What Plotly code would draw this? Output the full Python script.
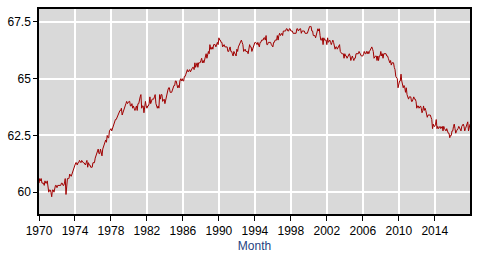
import plotly.graph_objects as go
import pandas as pd

# Civilian labor force participation rate, monthly, percent
values_1970s = [
    60.4, 60.6, 60.5, 60.6, 60.4, 60.4, 60.4, 60.3, 60.5, 60.4, 60.4, 60.5,
    60.1, 60.0, 60.1, 60.1, 60.0, 59.8, 60.1, 60.1, 60.0, 60.2, 60.3, 60.3,
    60.2, 60.3, 60.3, 60.3, 60.3, 60.3, 60.4, 60.4, 60.3, 60.3, 60.4, 60.6,
    59.9, 60.4, 60.6, 60.6, 60.6, 60.8, 60.7, 60.7, 60.8, 60.9, 61.0, 61.0,
    61.2, 61.3, 61.3, 61.2, 61.3, 61.3, 61.4, 61.3, 61.3, 61.4, 61.3, 61.3,
    61.3, 61.2, 61.2, 61.3, 61.4, 61.1, 61.3, 61.2, 61.2, 61.1, 61.1, 61.1,
    61.3, 61.3, 61.3, 61.5, 61.6, 61.6, 61.7, 61.9, 61.7, 61.7, 61.9, 61.8,
    61.6, 61.9, 62.0, 62.1, 62.2, 62.3, 62.2, 62.5, 62.4, 62.4, 62.7, 62.8,
    62.8, 62.7, 62.8, 62.9, 63.0, 63.2, 63.2, 63.2, 63.3, 63.3, 63.5, 63.5,
    63.6, 63.6, 63.7, 63.4, 63.5, 63.6, 63.8, 63.8, 63.9, 64.0, 63.9, 64.0,
]
values_1980s = [
    64.0, 64.0, 63.8, 63.8, 63.9, 63.7, 63.8, 63.7, 63.6, 63.7, 63.8, 63.6,
    63.9, 63.9, 64.1, 64.2, 64.3, 63.7, 63.8, 63.8, 63.5, 63.9, 64.0, 63.8,
    63.7, 63.8, 63.8, 63.9, 64.2, 63.9, 64.0, 64.1, 64.1, 64.1, 64.2, 64.3,
    63.9, 63.8, 63.7, 63.8, 63.7, 64.3, 64.1, 64.3, 64.3, 64.0, 64.1, 64.1,
    63.9, 64.1, 64.1, 64.3, 64.5, 64.6, 64.6, 64.4, 64.4, 64.4, 64.5, 64.6,
    64.7, 64.7, 64.9, 64.9, 64.8, 64.6, 64.7, 64.6, 64.9, 65.0, 64.9, 65.0,
    64.9, 64.9, 65.1, 65.1, 65.2, 65.4, 65.4, 65.3, 65.4, 65.4, 65.3, 65.4,
    65.4, 65.5, 65.5, 65.4, 65.7, 65.5, 65.6, 65.7, 65.5, 65.7, 65.7, 65.7,
    65.8, 65.9, 65.7, 65.8, 65.7, 65.8, 65.9, 66.1, 65.9, 66.0, 66.2, 66.1,
    66.5, 66.3, 66.3, 66.4, 66.3, 66.5, 66.5, 66.5, 66.4, 66.5, 66.6, 66.5,
]
values_1990s = [
    66.8, 66.7, 66.7, 66.6, 66.6, 66.4, 66.5, 66.5, 66.4, 66.4, 66.4, 66.4,
    66.2, 66.2, 66.3, 66.4, 66.2, 66.2, 66.1, 66.0, 66.2, 66.1, 66.1, 66.0,
    66.3, 66.2, 66.4, 66.5, 66.6, 66.7, 66.7, 66.6, 66.5, 66.2, 66.3, 66.3,
    66.2, 66.2, 66.2, 66.1, 66.4, 66.5, 66.4, 66.4, 66.2, 66.3, 66.3, 66.4,
    66.6, 66.6, 66.5, 66.5, 66.6, 66.4, 66.4, 66.6, 66.6, 66.7, 66.7, 66.7,
    66.8, 66.8, 66.7, 66.9, 66.5, 66.5, 66.6, 66.6, 66.6, 66.6, 66.5, 66.4,
    66.4, 66.6, 66.6, 66.7, 66.7, 66.7, 66.9, 66.7, 66.9, 67.0, 66.9, 67.0,
    67.0, 66.9, 67.1, 67.1, 67.1, 67.1, 67.2, 67.2, 67.1, 67.1, 67.2, 67.2,
    67.1, 67.1, 67.1, 67.0, 67.0, 67.0, 67.0, 67.0, 67.2, 67.2, 67.1, 67.2,
    67.2, 67.2, 67.0, 67.1, 67.1, 67.1, 67.1, 67.0, 67.0, 67.0, 67.0, 67.1,
]
values_2000s = [
    67.3, 67.3, 67.3, 67.3, 67.1, 67.1, 66.9, 66.9, 66.9, 66.8, 66.9, 67.0,
    67.2, 67.1, 67.2, 66.9, 66.7, 66.7, 66.8, 66.5, 66.8, 66.7, 66.7, 66.7,
    66.5, 66.8, 66.6, 66.7, 66.7, 66.6, 66.5, 66.6, 66.7, 66.6, 66.4, 66.3,
    66.4, 66.4, 66.3, 66.4, 66.4, 66.5, 66.2, 66.1, 66.1, 66.1, 66.1, 65.9,
    66.1, 66.0, 66.0, 65.9, 66.0, 66.1, 66.1, 66.0, 65.8, 65.9, 66.0, 65.9,
    65.8, 65.9, 65.9, 66.1, 66.1, 66.1, 66.1, 66.2, 66.1, 66.1, 66.0, 66.0,
    66.0, 66.1, 66.2, 66.1, 66.1, 66.2, 66.1, 66.2, 66.1, 66.2, 66.3, 66.4,
    66.4, 66.3, 66.2, 65.9, 66.0, 66.0, 66.0, 65.8, 66.0, 65.8, 66.0, 66.0,
    66.2, 66.0, 66.1, 65.9, 66.1, 66.1, 66.1, 66.1, 66.0, 66.0, 65.9, 65.8,
    65.7, 65.8, 65.6, 65.7, 65.7, 65.7, 65.5, 65.4, 65.1, 65.0, 65.0, 64.6,
]
values_2010s = [
    64.8, 64.9, 64.9, 65.2, 64.9, 64.6, 64.6, 64.7, 64.6, 64.4, 64.6, 64.3,
    64.2, 64.1, 64.2, 64.2, 64.2, 64.0, 64.0, 64.1, 64.2, 64.1, 64.1, 64.0,
    63.7, 63.8, 63.8, 63.7, 63.8, 63.8, 63.7, 63.5, 63.6, 63.8, 63.6, 63.7,
    63.6, 63.4, 63.3, 63.4, 63.4, 63.4, 63.4, 63.3, 63.2, 62.8, 63.0, 62.9,
    62.9, 63.0, 63.2, 62.8, 62.9, 62.8, 62.9, 62.9, 62.8, 62.9, 62.9, 62.7,
    62.9, 62.8, 62.7, 62.7, 62.8, 62.6, 62.6, 62.6, 62.4, 62.5, 62.5, 62.7,
    62.7, 62.9, 63.0, 62.8, 62.6, 62.7, 62.8, 62.8, 62.9, 62.8, 62.7, 62.7,
    62.9, 63.0, 63.0, 62.9, 62.7, 62.8, 62.9, 62.9, 63.1, 62.7, 62.8, 63.0,
]

rate = values_1970s + values_1980s + values_1990s + values_2000s + values_2010s
months = pd.date_range("1970-01-01", periods=len(rate), freq="MS")

x_tick_years = [1970, 1974, 1978, 1982, 1986, 1990, 1994, 1998, 2002, 2006, 2010, 2014]
y_tick_vals = [60, 62.5, 65, 67.5]
y_tick_text = ["60", "62.5", "65", "67.5"]

fig = go.Figure()
fig.add_trace(go.Scatter(
    x=months, y=rate, mode="lines",
    line=dict(color="#A00000", width=1),
    showlegend=False,
))

font_family = "Liberation Sans, Arial, sans-serif"
fig.update_layout(
    width=499, height=260,
    margin=dict(l=33, r=29, t=7, b=46),
    paper_bgcolor="white",
    plot_bgcolor="#D9D9D9",
    font=dict(family=font_family, size=12, color="black"),
)
fig.update_xaxes(
    range=[months[0], months[-1]],
    tickvals=[pd.Timestamp(f"{y}-01-01") for y in x_tick_years],
    ticktext=[str(y) for y in x_tick_years],
    showgrid=True, gridcolor="white", gridwidth=1.5,
    showline=True, linecolor="black", linewidth=1.5, mirror=True,
    ticks="outside", ticklen=5, tickcolor="black", tickwidth=1,
    title=dict(text="Month", font=dict(color="#1F3F7F", size=12), standoff=4),
    zeroline=False,
)
fig.update_yaxes(
    range=[59.04, 68.07],
    tickvals=y_tick_vals, ticktext=y_tick_text,
    showgrid=True, gridcolor="white", gridwidth=1.5,
    showline=True, linecolor="black", linewidth=1.5, mirror=True,
    ticks="outside", ticklen=4, tickcolor="black", tickwidth=1,
    zeroline=False,
)

fig.write_html("out.html")
